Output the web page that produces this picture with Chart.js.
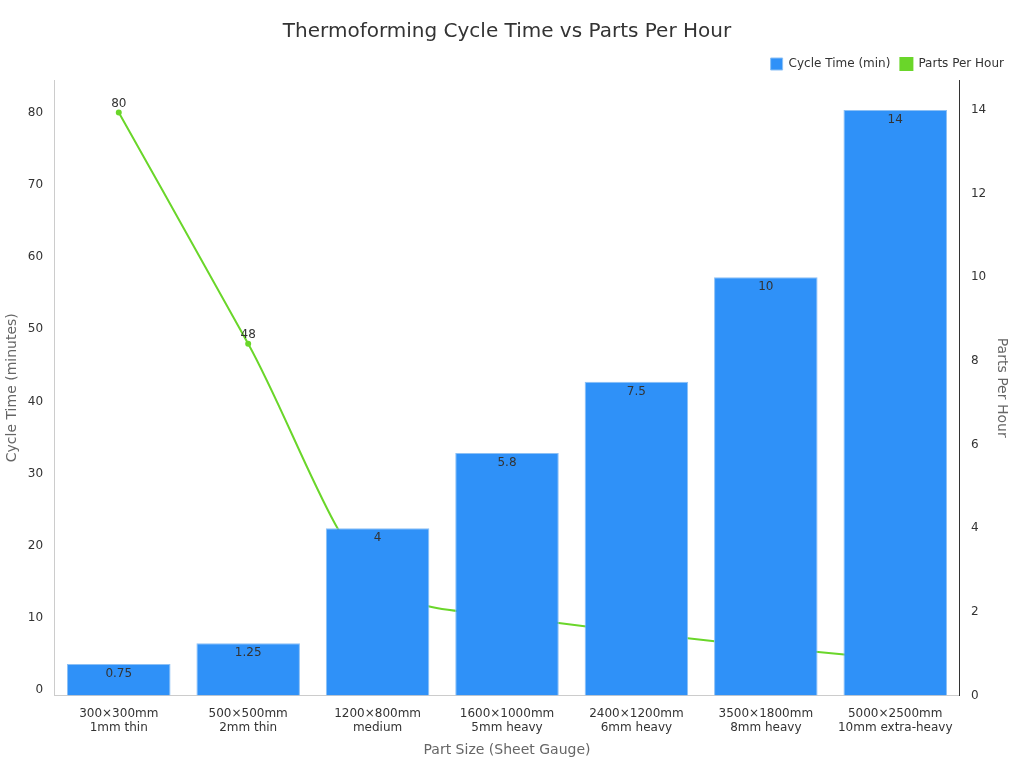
<!DOCTYPE html>
<html><head><meta charset="utf-8">
<script src="https://cdn.jsdelivr.net/npm/chart.js@4/dist/chart.umd.min.js"></script>
<style>html,body{margin:0;padding:0;background:#fff}#w{width:1024px;height:768px}</style>
</head><body><div id="w"><canvas id="c"></canvas></div>
<script>
const categories = [["300×300mm","1mm thin"],["500×500mm","2mm thin"],["1200×800mm","medium"],["1600×1000mm","5mm heavy"],["2400×1200mm","6mm heavy"],["3500×1800mm","8mm heavy"],["5000×2500mm","10mm extra-heavy"]];
const cycleTime = [0.75, 1.25, 4, 5.8, 7.5, 10, 14];
const partsPerHour = [80, 48, 15, 10.3, 8, 6, 4.3];
const leftTicks = [0,10,20,30,40,50,60,70,80];
const rightTicks = [0,2,4,6,8,10,12,14];

const labelPlugin = {
  id: 'lbl',
  afterDatasetDraw(chart, args) {
    const ctx = chart.ctx;
    const meta = args.meta;
    const ds = chart.data.datasets[args.index];
    ctx.save();
    ctx.font = '12px "DejaVu Sans", sans-serif';
    ctx.fillStyle = '#333';
    ctx.textAlign = 'center';
    meta.data.forEach((el, i) => {
      if (ds.type === 'bar') {
        ctx.textBaseline = 'top';
        ctx.fillText(String(ds.data[i]), el.x, el.y + 4);
      } else {
        ctx.textBaseline = 'bottom';
        ctx.fillText(String(ds.data[i]), el.x, el.y - 3);
      }
    });
    ctx.restore();
  }
};

new Chart(document.getElementById('c'), {
  data: {
    labels: categories,
    datasets: [
      { type: 'bar', label: 'Cycle Time (min)', data: cycleTime, yAxisID: 'y1', order: 1,
        backgroundColor: '#2f91f8', borderColor: '#8cc0f5', borderWidth: 1,
        categoryPercentage: 1, barPercentage: 0.8 },
      { type: 'line', label: 'Parts Per Hour', data: partsPerHour, yAxisID: 'y', order: 2,
        borderColor: '#6ad62a', backgroundColor: '#6ad62a', borderWidth: 2,
        pointRadius: 2, cubicInterpolationMode: 'monotone' }
    ]
  },
  plugins: [labelPlugin],
  options: {
    responsive: true, maintainAspectRatio: false, animation: false,
    layout: { padding: { left: 0, right: 10, top: 10, bottom: 5 } },
    plugins: {
      title: { display: true, text: 'Thermoforming Cycle Time vs Parts Per Hour', color: '#333',
        font: { family: '"DejaVu Sans"', size: 20, weight: 'normal' }, padding: { top: 10, bottom: 4 } },
      legend: { align: 'end', labels: { boxWidth: 12, boxHeight: 12, usePointStyle: false, color: '#333',
        font: { family: '"DejaVu Sans"', size: 12 } } },
      tooltip: { enabled: false }
    },
    scales: {
      x: { grid: { display: false }, border: { color: '#ccc' },
        ticks: { color: '#333', font: { family: '"DejaVu Sans"', size: 12 } },
        title: { display: true, text: 'Part Size (Sheet Gauge)', color: '#666', font: { family: '"DejaVu Sans"', size: 14 } } },
      y: { position: 'left', min: -0.7, max: 84.5, grid: { display: false }, border: { color: '#ccc' },
        afterBuildTicks: a => { a.ticks = leftTicks.map(v => ({ value: v })); },
        ticks: { color: '#333', font: { family: '"DejaVu Sans"', size: 12 } },
        title: { display: true, text: 'Cycle Time (minutes)', color: '#666', font: { family: '"DejaVu Sans"', size: 14 } } },
      y1: { position: 'right', min: 0, max: 14.72, grid: { display: false }, border: { color: '#333' },
        afterBuildTicks: a => { a.ticks = rightTicks.map(v => ({ value: v })); },
        ticks: { color: '#333', font: { family: '"DejaVu Sans"', size: 12 } },
        title: { display: true, text: 'Parts Per Hour', color: '#666', font: { family: '"DejaVu Sans"', size: 14 } } }
    }
  }
});
</script></body></html>
